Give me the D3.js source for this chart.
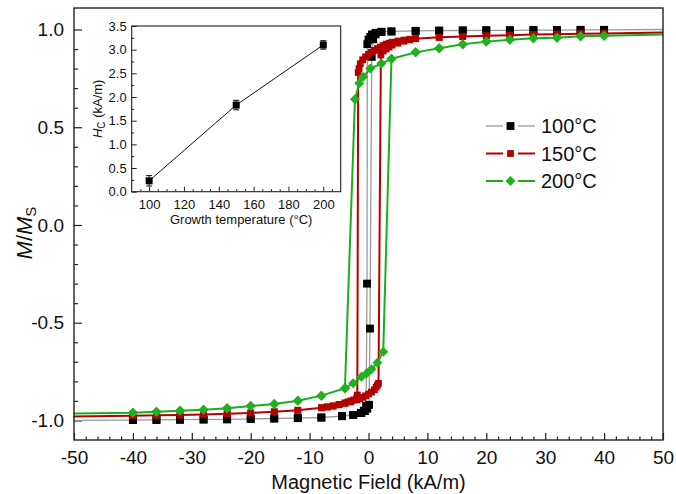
<!DOCTYPE html>
<html>
<head>
<meta charset="utf-8">
<script src="https://cdn.jsdelivr.net/npm/d3@7"></script>
<style>
	body { margin: 0; background: #fff; }
	svg { display: block; font-family: Arial, 'Liberation Sans', sans-serif; }
</style>
</head>
<body>
<svg id="chart" width="676" height="494"></svg>
<script>
// hysteresis loops, [H (kA/m), M/Ms], field sweeping down then up
const loop100_down = [[50,1.0],[40,0.998],[36,0.998],[32,0.997],[28,0.997],[24,0.996],[20,0.996],[16,0.995],[12,0.994],[8,0.993],[3.9,0.99],[2.2,0.988],[1.2,0.983],[0.6,0.975],[0.3,0.962],[0,0.948],[-0.2,0.925],[-0.25,-0.3],[-0.4,-0.925],[-0.8,-0.95],[-1.3,-0.962],[-2.6,-0.972],[-4.5,-0.978],[-8,-0.985],[-12,-0.988],[-16,-0.99],[-20,-0.992],[-24,-0.994],[-28,-0.995],[-32,-0.996],[-36,-0.997],[-40,-0.998],[-50,-1.0]];
const loop100_up = [[-50,-1.0],[-40,-0.998],[-36,-0.997],[-32,-0.996],[-28,-0.995],[-24,-0.994],[-20,-0.992],[-16,-0.99],[-12,-0.988],[-8,-0.985],[-4.5,-0.978],[-2.6,-0.972],[-1.2,-0.962],[-0.6,-0.952],[-0.2,-0.94],[0.1,-0.92],[0.25,-0.53],[0.55,0.86],[0.8,0.95],[1.2,0.975],[2.2,0.988],[3.9,0.99],[8,0.993],[12,0.994],[16,0.995],[20,0.996],[24,0.996],[28,0.997],[32,0.997],[36,0.998],[40,0.998],[50,1.0]];

const loop150_down = [[50,0.985],[40,0.98],[36,0.978],[32,0.976],[28,0.974],[24,0.971],[20,0.968],[16,0.964],[12,0.96],[8,0.953],[7,0.95],[6,0.946],[5,0.941],[4,0.935],[3.5,0.93],[3,0.925],[2.5,0.918],[2,0.91],[1.5,0.902],[1,0.893],[0.5,0.884],[0,0.873],[-0.5,0.86],[-1,0.845],[-1.4,0.825],[-1.6,0.8],[-1.75,0.78],[-1.9,-0.87],[-2,-0.885],[-2.5,-0.895],[-3,-0.9],[-3.5,-0.905],[-4,-0.91],[-5,-0.918],[-6,-0.925],[-7,-0.93],[-8,-0.935],[-12,-0.948],[-16,-0.956],[-20,-0.962],[-24,-0.966],[-28,-0.969],[-32,-0.972],[-36,-0.974],[-40,-0.976],[-50,-0.98]];
const loop150_up = [[-50,-0.98],[-40,-0.976],[-36,-0.974],[-32,-0.972],[-28,-0.969],[-24,-0.966],[-20,-0.962],[-16,-0.956],[-12,-0.948],[-8,-0.935],[-7,-0.932],[-6,-0.927],[-5,-0.92],[-4,-0.913],[-3,-0.905],[-2,-0.895],[-1.5,-0.89],[-1,-0.882],[-0.5,-0.874],[0,-0.865],[0.5,-0.855],[1,-0.843],[1.3,-0.83],[1.5,-0.82],[1.7,-0.81],[2.1,0.87],[2.5,0.89],[3,0.9],[3.5,0.91],[4,0.92],[5,0.93],[6,0.94],[7,0.947],[8,0.953],[12,0.96],[16,0.964],[20,0.968],[24,0.971],[28,0.974],[32,0.976],[36,0.978],[40,0.98],[50,0.985]];

const loop200_down = [[50,0.975],[40,0.968],[36,0.965],[32,0.958],[28,0.955],[24,0.948],[20,0.938],[16,0.924],[12,0.904],[8,0.883],[3.9,0.85],[2.2,0.826],[0.3,0.8],[-0.9,0.758],[-1.56,0.725],[-2.3,0.643],[-4,-0.835],[-8,-0.873],[-12,-0.899],[-16,-0.916],[-20,-0.926],[-24,-0.938],[-28,-0.945],[-32,-0.95],[-36,-0.955],[-40,-0.96],[-50,-0.965]];
const loop200_up = [[-50,-0.965],[-40,-0.96],[-36,-0.955],[-32,-0.95],[-28,-0.945],[-24,-0.938],[-20,-0.926],[-16,-0.916],[-12,-0.899],[-8,-0.873],[-4,-0.835],[-2.6,-0.81],[-1.2,-0.776],[-0.3,-0.758],[0.5,-0.738],[1.5,-0.705],[2.5,-0.648],[3.9,0.85],[8,0.883],[12,0.904],[16,0.924],[20,0.938],[24,0.948],[28,0.955],[32,0.958],[36,0.965],[40,0.968],[50,0.975]];

const series = [
	{ label: '100\u00b0C', down: loop100_down, up: loop100_up, line: '#9a9a9a', lw: 1.3, fill: '#000', rot: 0, size: 62 },
	{ label: '150\u00b0C', down: loop150_down, up: loop150_up, line: '#b30000', lw: 2, fill: '#b30000', rot: 0, size: 46 },
	{ label: '200\u00b0C', down: loop200_down, up: loop200_up, line: '#1cad1c', lw: 2, fill: '#1fb11f', rot: 45, size: 50 },
];

// inset: coercivity vs growth temperature
const growth_temp = [100, 150, 200];
const coercivity = [0.23, 1.83, 3.1];
const coercivity_err = [0.11, 0.1, 0.09];

const xticks = d3.range(-50, 51, 10);
const yticks = [-1.0, -0.5, 0.0, 0.5, 1.0];

const svg = d3.select('#chart');
const m = { left: 74, right: 663, top: 8, bottom: 440 };
const hyphen = f => v => f(v).replace('\u2212', '-');

const x = d3.scaleLinear().domain([-50, 50]).range([m.left, m.right]);
const y = d3.scaleLinear().domain([-1.1, 1.11]).range([m.bottom, m.top]);

// minor ticks (inside)
const gx = svg.append('g').attr('transform', `translate(0,${m.bottom})`);
gx.call(d3.axisBottom(x).tickValues(d3.range(-50, 51, 2).filter(v => v % 10 !== 0)).tickSize(-3.5).tickFormat(''));
const gxMajor = svg.append('g').attr('transform', `translate(0,${m.bottom})`)
	.call(d3.axisBottom(x).tickValues(xticks).tickSize(-7).tickPadding(6).tickFormat(hyphen(d3.format('d'))));
gxMajor.selectAll('text').attr('font-size', 19).attr('fill', '#111').attr('dy', '0.95em');

const gy = svg.append('g').attr('transform', `translate(${m.left},0)`);
gy.call(d3.axisLeft(y).tickValues(d3.range(-10, 11).filter(v => v % 5 !== 0).map(v => v / 10)).tickSize(-4).tickFormat(''));
const gyMajor = svg.append('g').attr('transform', `translate(${m.left},0)`)
	.call(d3.axisLeft(y).tickValues(yticks).tickSize(-8).tickPadding(10).tickFormat(hyphen(d3.format('.1f'))));
gyMajor.selectAll('text').attr('font-size', 19).attr('fill', '#111');

[gx, gxMajor, gy, gyMajor].forEach(g => {
	g.select('.domain').remove();
	g.selectAll('line').attr('stroke', '#222').attr('stroke-width', 1.2);
});

const line = d3.line().x(d => x(d[0])).y(d => y(d[1]));
const plot = svg.append('g');

series.forEach(s => {
	const g = plot.append('g');
	g.append('path')
		.attr('d', line(s.down.concat(s.up)))
		.attr('fill', 'none')
		.attr('stroke', s.line)
		.attr('stroke-width', s.lw)
		.attr('stroke-linejoin', 'round');
	const pts = s.down.concat(s.up).filter(d => Math.abs(d[0]) <= 40);
	g.selectAll('path.pt').data(pts).join('path')
		.attr('class', 'pt')
		.attr('transform', d => `translate(${x(d[0])},${y(d[1])}) rotate(${s.rot})`)
		.attr('d', d3.symbol(d3.symbolSquare, s.size))
		.attr('fill', s.fill);
});

// frame
svg.append('rect')
	.attr('x', m.left).attr('y', m.top)
	.attr('width', m.right - m.left).attr('height', m.bottom - m.top)
	.attr('fill', 'none').attr('stroke', '#222').attr('stroke-width', 1.4);

// axis titles
svg.append('text')
	.attr('x', (m.left + m.right) / 2).attr('y', 489)
	.attr('text-anchor', 'middle').attr('font-size', 20).attr('fill', '#111')
	.text('Magnetic Field (kA/m)');

const ytitle = svg.append('text')
	.attr('transform', 'translate(32,233) rotate(-90)')
	.attr('text-anchor', 'middle').attr('font-size', 22).attr('fill', '#111');
ytitle.append('tspan').attr('font-style', 'italic').text('M');
ytitle.append('tspan').text('/');
ytitle.append('tspan').attr('font-style', 'italic').text('M');
ytitle.append('tspan').attr('font-size', 15).attr('dy', 4).text('S');

// legend
const legend = svg.append('g').attr('transform', 'translate(486,126)');
const rows = legend.selectAll('g').data(series).join('g')
	.attr('transform', (d, i) => `translate(0,${i * 27.5})`);
rows.append('line').attr('x1', 0).attr('x2', 17).attr('stroke', d => d.line).attr('stroke-width', d => d.lw);
rows.append('line').attr('x1', 32).attr('x2', 49).attr('stroke', d => d.line).attr('stroke-width', d => d.lw);
rows.append('path')
	.attr('transform', d => `translate(24.5,0) rotate(${d.rot})`)
	.attr('d', d => d3.symbol(d3.symbolSquare, d.size)())
	.attr('fill', d => d.fill);
rows.append('text')
	.attr('x', 55).attr('dy', '0.36em')
	.attr('font-size', 20).attr('fill', '#111')
	.text(d => d.label);

// inset
const ix = d3.scaleLinear().domain([90, 210]).range([131.7, 340.7]);
const iy = d3.scaleLinear().domain([0, 3.5]).range([191.7, 26]);
const inset = svg.append('g');
inset.append('rect')
	.attr('x', ix.range()[0]).attr('y', iy.range()[1])
	.attr('width', ix.range()[1] - ix.range()[0]).attr('height', iy.range()[0] - iy.range()[1])
	.attr('fill', '#fff');

const ixMinor = inset.append('g').attr('transform', `translate(0,${iy.range()[0]})`)
	.call(d3.axisBottom(ix).tickValues(d3.range(95, 210, 5).filter(v => v % 20 !== 0)).tickSize(-2.5).tickFormat(''));
const ixMajor = inset.append('g').attr('transform', `translate(0,${iy.range()[0]})`)
	.call(d3.axisBottom(ix).tickValues(d3.range(100, 201, 20)).tickSize(-5).tickPadding(5).tickFormat(d3.format('d')));
ixMajor.selectAll('text').attr('font-size', 13).attr('fill', '#111').attr('dy', '0.95em');
const iyMinor = inset.append('g').attr('transform', `translate(${ix.range()[0]},0)`)
	.call(d3.axisLeft(iy).tickValues(d3.range(0.25, 3.5, 0.5)).tickSize(-2.5).tickFormat(''));
const iyMajor = inset.append('g').attr('transform', `translate(${ix.range()[0]},0)`)
	.call(d3.axisLeft(iy).tickValues(d3.range(0, 3.51, 0.5)).tickSize(-5).tickPadding(5).tickFormat(d3.format('.1f')));
iyMajor.selectAll('text').attr('font-size', 13).attr('fill', '#111');
[ixMinor, ixMajor, iyMinor, iyMajor].forEach(g => {
	g.select('.domain').remove();
	g.selectAll('line').attr('stroke', '#222').attr('stroke-width', 1);
});

inset.append('rect')
	.attr('x', ix.range()[0]).attr('y', iy.range()[1])
	.attr('width', ix.range()[1] - ix.range()[0]).attr('height', iy.range()[0] - iy.range()[1])
	.attr('fill', 'none').attr('stroke', '#222').attr('stroke-width', 1.1);

const inset_data = growth_temp.map((t, i) => ({ t, hc: coercivity[i], err: coercivity_err[i] }));
inset.append('path')
	.attr('d', d3.line().x(d => ix(d.t)).y(d => iy(d.hc))(inset_data))
	.attr('fill', 'none').attr('stroke', '#111').attr('stroke-width', 1);
const bars = inset.selectAll('g.err').data(inset_data).join('g').attr('class', 'err');
bars.append('line')
	.attr('x1', d => ix(d.t)).attr('x2', d => ix(d.t))
	.attr('y1', d => iy(d.hc - d.err)).attr('y2', d => iy(d.hc + d.err))
	.attr('stroke', '#111').attr('stroke-width', 1);
[-1, 1].forEach(sgn => {
	bars.append('line')
		.attr('x1', d => ix(d.t) - 3).attr('x2', d => ix(d.t) + 3)
		.attr('y1', d => iy(d.hc + sgn * d.err)).attr('y2', d => iy(d.hc + sgn * d.err))
		.attr('stroke', '#111').attr('stroke-width', 1);
});
bars.append('rect')
	.attr('x', d => ix(d.t) - 3.5).attr('y', d => iy(d.hc) - 3.5)
	.attr('width', 7).attr('height', 7).attr('fill', '#000');

inset.append('text')
	.attr('x', (ix.range()[0] + ix.range()[1]) / 2 + 5).attr('y', 224)
	.attr('text-anchor', 'middle').attr('font-size', 13).attr('fill', '#111')
	.text('Growth temperature (\u00b0C)');
const iytitle = inset.append('text')
	.attr('transform', `translate(102,${(iy.range()[0] + iy.range()[1]) / 2}) rotate(-90)`)
	.attr('text-anchor', 'middle').attr('font-size', 13).attr('fill', '#111');
iytitle.append('tspan').attr('font-style', 'italic').text('H');
iytitle.append('tspan').attr('font-size', 10).attr('dy', 3).text('C');
iytitle.append('tspan').attr('dy', -3).text(' (kA/m)');
</script>
</body>
</html>
